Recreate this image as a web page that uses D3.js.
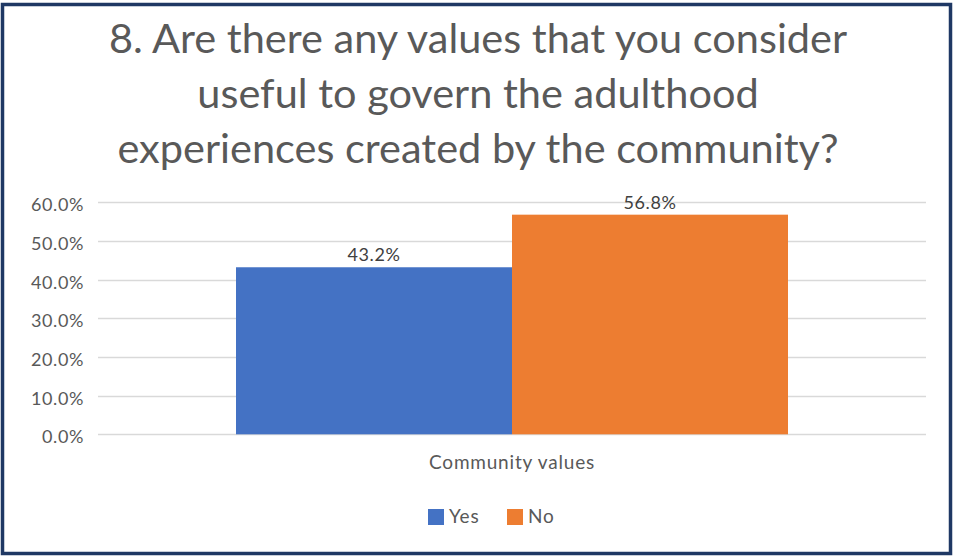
<!DOCTYPE html>
<html>
<head>
<meta charset="utf-8">
<script src="https://cdn.jsdelivr.net/npm/d3@7"></script>
<style>
  html, body { margin: 0; padding: 0; background: #fff; }
  svg { display: block; }
  text { font-family: Lato, "Open Sans", sans-serif; }
</style>
</head>
<body>
<svg id="chart" width="953" height="556"></svg>
<script>
// Survey answers for the single category
const categories = ["Community values"];
const seriesNames = ["Yes", "No"];
const seriesValues = [0.432, 0.568];
const seriesColors = ["#4472C4", "#ED7D31"];
const yTicks = [0, 0.1, 0.2, 0.3, 0.4, 0.5, 0.6];
const titleLines = [
  "8. Are there any values that you consider",
  "useful to govern the adulthood",
  "experiences created by the community?"
];

const svg = d3.select("#chart");
const W = 953, H = 556;
const pct = d3.format(".1%");

// outer frame
svg.append("rect")
  .attr("x", 2.5).attr("y", 4.5)
  .attr("width", W - 5).attr("height", H - 7)
  .attr("fill", "#fff")
  .attr("stroke", "#1F3864").attr("stroke-width", 3.5);

// title
svg.append("g").selectAll("text")
  .data(titleLines)
  .join("text")
  .attr("x", 478)
  .attr("y", (d, i) => 53 + i * 55)
  .attr("text-anchor", "middle")
  .attr("font-size", 41.5)
  .attr("fill", "#595959")
  .text(d => d);

const plot = { left: 98, right: 926, top: 202.3, bottom: 434.3 };

const y = d3.scaleLinear().domain([0, 0.6]).range([plot.bottom, plot.top]);
const x0 = d3.scaleBand().domain(categories).range([plot.left, plot.right]).paddingInner(0).paddingOuter(0);
const x1 = d3.scaleBand().domain(seriesNames).range([0, x0.bandwidth()]).paddingOuter(0.5).paddingInner(0);

// gridlines
svg.append("g")
  .selectAll("line")
  .data(yTicks)
  .join("line")
  .attr("x1", plot.left).attr("x2", plot.right)
  .attr("y1", d => Math.round(y(d)) + 0.5)
  .attr("y2", d => Math.round(y(d)) + 0.5)
  .attr("stroke", "#D9D9D9").attr("stroke-width", 1.3);

// y axis labels
const yAxis = d3.axisLeft(y).tickValues(yTicks).tickFormat(pct).tickSize(0).tickPadding(14);
const yg = svg.append("g").attr("transform", `translate(${plot.left},0)`).call(yAxis);
yg.select(".domain").remove();
yg.selectAll("text")
  .attr("font-family", "Lato, 'Open Sans', sans-serif")
  .attr("font-size", 18).attr("letter-spacing", 0.6)
  .attr("dy", "0.47em")
  .attr("fill", "#595959");

// bars
const groups = svg.append("g").selectAll("g")
  .data(categories)
  .join("g")
  .attr("transform", d => `translate(${x0(d)},0)`);

groups.selectAll("rect")
  .data(() => seriesNames.map((s, i) => ({ s, v: seriesValues[i], c: seriesColors[i] })))
  .join("rect")
  .attr("x", d => x1(d.s))
  .attr("y", d => y(d.v))
  .attr("width", x1.bandwidth())
  .attr("height", d => y(0) - y(d.v))
  .attr("fill", d => d.c);

// value labels
groups.selectAll("text.val")
  .data(() => seriesNames.map((s, i) => ({ s, v: seriesValues[i] })))
  .join("text")
  .attr("class", "val")
  .attr("x", d => x1(d.s) + x1.bandwidth() / 2)
  .attr("y", d => y(d.v) - 6)
  .attr("text-anchor", "middle")
  .attr("font-size", 18).attr("letter-spacing", 0.6)
  .attr("fill", "#404040")
  .text(d => pct(d.v));

// category axis label
const xAxis = d3.axisBottom(x0).tickSize(0).tickPadding(21);
const xg = svg.append("g").attr("transform", `translate(0,${plot.bottom})`).call(xAxis);
xg.select(".domain").remove();
xg.selectAll("text")
  .attr("font-family", "Lato, 'Open Sans', sans-serif")
  .attr("font-size", 19).attr("letter-spacing", 0.8)
  .attr("fill", "#595959");

// legend
const legendItems = [
  { name: seriesNames[0], color: seriesColors[0], x: 428 },
  { name: seriesNames[1], color: seriesColors[1], x: 507 }
];
const lg = svg.append("g").selectAll("g")
  .data(legendItems)
  .join("g")
  .attr("transform", d => `translate(${d.x},509)`);
lg.append("rect").attr("width", 16).attr("height", 16).attr("fill", d => d.color);
lg.append("text")
  .attr("x", 21).attr("y", 14)
  .attr("font-size", 19).attr("letter-spacing", 0.8)
  .attr("fill", "#595959")
  .text(d => d.name);
</script>
</body>
</html>
